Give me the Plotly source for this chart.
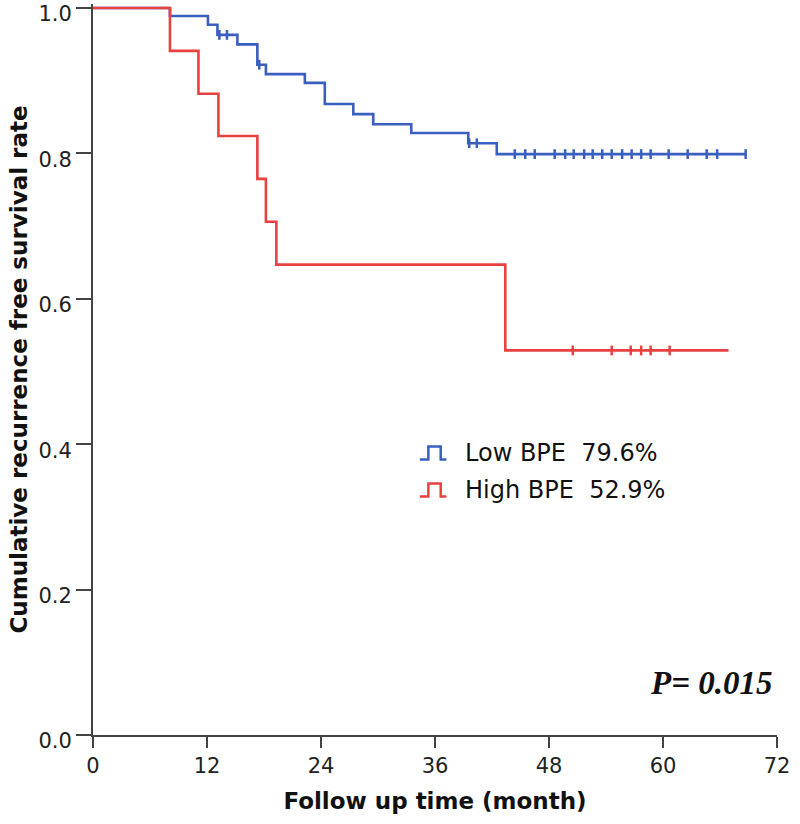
import numpy as np
import plotly.graph_objects as go

# ---- data ----
low_times = [0, 8.1, 12.1, 13.1, 15.2, 17.3, 18.2, 22.3, 24.4, 27.4, 29.5, 33.5, 39.5, 42.5, 68.7]
low_surv = [1.0, 0.989, 0.977, 0.963, 0.950, 0.922, 0.909, 0.897, 0.868, 0.854, 0.840, 0.828, 0.814, 0.799, 0.799]
low_censor = [13.3, 14.1, 17.5, 39.6, 40.4, 44.4, 45.5, 46.5, 48.6, 49.7, 50.6, 51.7, 52.6, 53.6,
              54.6, 55.7, 56.7, 57.7, 58.7, 60.6, 62.6, 64.6, 65.7, 68.7]

high_times = [0, 8.1, 11.1, 13.2, 17.3, 18.2, 19.3, 43.4, 66.9]
high_surv = [1.0, 0.941, 0.882, 0.824, 0.765, 0.706, 0.647, 0.529, 0.529]
high_censor = [50.5, 54.6, 56.6, 57.7, 58.7, 60.7]

x_ticks = [0, 12, 24, 36, 48, 60, 72]
y_ticks = [0.0, 0.2, 0.4, 0.6, 0.8, 1.0]

BLUE = "#3a5fbf"
RED = "#e8413f"
SANS = "DejaVu Sans, Liberation Sans, Arial"


def step_at(times, surv, t):
    idx = np.searchsorted(times, t, side="right") - 1
    return [surv[i] for i in idx]


fig = go.Figure()
fig.add_trace(go.Scatter(x=low_times, y=low_surv, mode="lines", line=dict(color=BLUE, width=2.6, shape="hv"),
                         showlegend=False))
fig.add_trace(go.Scatter(x=high_times, y=high_surv, mode="lines", line=dict(color=RED, width=2.6, shape="hv"),
                         showlegend=False))
fig.add_trace(go.Scatter(x=low_censor, y=step_at(low_times, low_surv, low_censor), mode="markers",
                         marker=dict(symbol="line-ns", size=7, line=dict(color=BLUE, width=2.5)),
                         showlegend=False))
fig.add_trace(go.Scatter(x=high_censor, y=step_at(high_times, high_surv, high_censor), mode="markers",
                         marker=dict(symbol="line-ns", size=7, line=dict(color=RED, width=2.5)),
                         showlegend=False))

# legend (custom step-shaped icons)
legend_items = [("Low BPE\u00a0\u00a079.6%", BLUE, 0.388), ("High BPE\u00a0\u00a052.9%", RED, 0.337)]
for label, col, yc in legend_items:
    h = 0.009
    fig.add_shape(type="path",
                  path=f"M 34.4,{yc-h} L 35.3,{yc-h} L 35.3,{yc+h} L 36.6,{yc+h} L 36.6,{yc-h} L 37.2,{yc-h}",
                  line=dict(color=col, width=2.5), xref="x", yref="y")
    fig.add_annotation(x=38.9, y=yc, text=label, showarrow=False, xanchor="left", yanchor="middle",
                       font=dict(family=SANS, size=24, color="#111"))

fig.add_annotation(x=71.7, y=0.071, text="<b><i>P= 0.015</i></b>", showarrow=False, xanchor="right",
                   yanchor="middle", font=dict(family="Liberation Serif, Times New Roman", size=33, color="#111"))

axis_font = dict(family=SANS, size=21, color="#222")
fig.update_xaxes(range=[0, 72], tickvals=x_ticks, ticks="outside", ticklen=11, tickwidth=2, tickcolor="#444",
                 showline=True, linecolor="#444", linewidth=2, showgrid=False, zeroline=False,
                 tickfont=axis_font, ticklabeloverflow="allow",
                 title=dict(text="<b>Follow up time (month)</b>",
                            font=dict(family=SANS, size=23, color="#111"), standoff=16))
fig.update_yaxes(range=[0, 1.0055], tickvals=y_ticks, tickformat=".1f", ticks="outside", ticklen=15, tickwidth=2,
                 tickcolor="#444", showline=True, linecolor="#444", linewidth=2, showgrid=False, zeroline=False,
                 tickfont=axis_font, ticklabeloverflow="allow", ticklabelshift=6,
                 title=dict(text="<b>Cumulative recurrence free survival rate</b>",
                            font=dict(family=SANS, size=23, color="#111"), standoff=4))

fig.update_layout(width=800, height=824, margin=dict(l=93, r=23, t=4, b=89, autoexpand=False),
                  plot_bgcolor="white", paper_bgcolor="white")
fig.write_html("out.html", config={"displayModeBar": False},
               post_script="document.body.style.margin='0';")
